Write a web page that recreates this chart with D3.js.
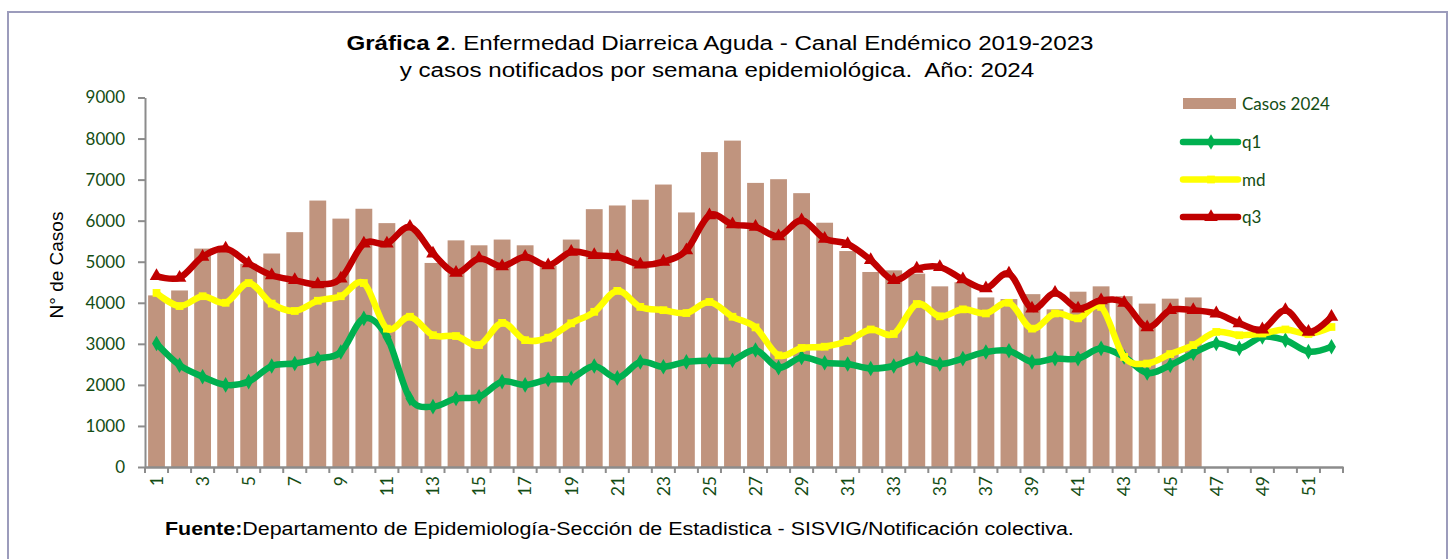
<!DOCTYPE html>
<html>
<head>
<meta charset="utf-8">
<script src="https://cdn.jsdelivr.net/npm/d3@7"></script>
<style>
  body { margin: 0; background: #fff; }
  svg { display: block; }
</style>
</head>
<body>
<div id="chart"></div>
<script>
// Semanas epidemiologicas
const weeks = d3.range(1, 53);
const yTicks = [0, 1000, 2000, 3000, 4000, 5000, 6000, 7000, 8000, 9000];

// Casos 2024 (semanas 1-46)
const casos2024 = [4180, 4300, 5320, 5300, 4950, 5200, 5720, 6490, 6050, 6290,
  5940, 5750, 4970, 5520, 5400, 5540, 5400, 4900, 5540, 6280,
  6370, 6510, 6880, 6200, 7670, 7950, 6920, 7010, 6670, 5950,
  5260, 4750, 4790, 4710, 4400, 4500, 4130, 4090, 4210, 3840,
  4270, 4400, 4160, 3980, 4100, 4130];

// Canal endemico 2019-2023
const q1 = [3010, 2480, 2200, 2000, 2080, 2460, 2520, 2640, 2800, 3620,
  3170, 1670, 1470, 1670, 1710, 2080, 2000, 2130, 2160, 2460,
  2170, 2560, 2440, 2560, 2590, 2600, 2850, 2420, 2670, 2540,
  2510, 2400, 2460, 2640, 2510, 2640, 2800, 2830, 2560, 2640,
  2640, 2890, 2680, 2290, 2480, 2770, 3010, 2890, 3170, 3090,
  2810, 2930];
const md = [4240, 3920, 4160, 4000, 4480, 3980, 3800, 4050, 4160, 4480,
  3370, 3660, 3210, 3190, 2970, 3510, 3090, 3150, 3500, 3780,
  4290, 3900, 3820, 3750, 4020, 3660, 3400, 2720, 2900, 2930,
  3070, 3350, 3240, 3970, 3670, 3840, 3740, 4000, 3370, 3740,
  3620, 3900, 2680, 2520, 2750, 2970, 3290, 3210, 3250, 3350,
  3240, 3410];
const q3 = [4650, 4610, 5120, 5320, 4960, 4670, 4550, 4450, 4590, 5440,
  5440, 5850, 5200, 4730, 5080, 4890, 5120, 4910, 5240, 5160,
  5120, 4930, 5000, 5280, 6130, 5910, 5850, 5620, 6010, 5560,
  5430, 5040, 4550, 4830, 4870, 4570, 4350, 4710, 3860, 4240,
  3860, 4060, 4000, 3400, 3820, 3820, 3740, 3500, 3350, 3820,
  3290, 3660];

const series = [
  { name: "q1", values: q1, color: "#00b050", symbol: d3.symbolDiamond, size: 70 },
  { name: "md", values: md, color: "#ffff00", symbol: d3.symbolSquare, size: 60 },
  { name: "q3", values: q3, color: "#c00000", symbol: d3.symbolTriangle, size: 80 }
];

const W = 1453, H = 559;
const margin = { top: 97.5, right: 110, bottom: 92, left: 145 };
const tickColor = "#144d14";

const svg = d3.select("#chart")
  .append("svg")
  .attr("width", W)
  .attr("height", H);

// marco
svg.append("rect")
  .attr("x", 8).attr("y", 12)
  .attr("width", 1439).attr("height", 600)
  .attr("fill", "#fff")
  .attr("stroke", "#9c9cbc")
  .attr("stroke-width", 2);

// scales
const x = d3.scaleBand()
  .domain(weeks)
  .range([margin.left, 1343]);

const y = d3.scaleLinear()
  .domain([0, 9000])
  .range([467, margin.top]);

const bw = x.bandwidth() * 0.73;

// bars
svg.selectAll(".bar")
  .data(casos2024)
  .enter().append("rect")
  .attr("class", "bar")
  .attr("x", (d, i) => x(weeks[i]) + (x.bandwidth() - bw) / 2)
  .attr("y", d => y(d))
  .attr("width", bw)
  .attr("height", d => y(0) - y(d))
  .style("fill", "#c0947e");

// lines
const line = d3.line()
  .x((d, i) => x(weeks[i]) + x.bandwidth() / 2)
  .y(d => y(d))
  .curve(d3.curveCardinal.tension(0));

series.forEach(function(s) {
  svg.append("path")
    .datum(s.values)
    .attr("fill", "none")
    .attr("stroke", s.color)
    .attr("stroke-width", 6.5)
    .attr("stroke-linejoin", "round")
    .attr("stroke-linecap", "round")
    .attr("d", line);

  svg.selectAll(".mk-" + s.name)
    .data(s.values)
    .enter().append("path")
    .attr("class", "mk-" + s.name)
    .attr("transform", (d, i) => `translate(${x(weeks[i]) + x.bandwidth() / 2},${y(d)})`)
    .attr("d", d3.symbol().type(s.symbol).size(s.size))
    .attr("fill", s.color);
});

// y axis
const yAxis = svg.append("g")
  .attr("transform", `translate(${margin.left},0)`)
  .call(d3.axisLeft(y).tickValues(yTicks).tickFormat(d3.format("d"))
    .tickSize(7).tickPadding(13).tickSizeOuter(0));
yAxis.select(".domain").attr("stroke", "#8c8c8c").attr("stroke-width", 2);
yAxis.selectAll(".tick line").attr("stroke", "#8c8c8c").attr("stroke-width", 2);
yAxis.selectAll("text")
  .attr("fill", tickColor)
  .style("font-family", "Lato, sans-serif")
  .style("font-size", "17px");

// x axis
const xAxis = svg.append("g")
  .attr("transform", `translate(0,${y(0)})`)
  .call(d3.axisBottom(x).tickValues(weeks.filter(w => w % 2 === 1)).tickSize(0).tickPadding(0));
xAxis.select(".domain").attr("stroke", "#8c8c8c").attr("stroke-width", 2.5);
xAxis.selectAll("text")
  .attr("y", 0)
  .attr("x", -9)
  .attr("dy", "0.36em")
  .attr("transform", "rotate(-90)")
  .attr("text-anchor", "end")
  .attr("fill", tickColor)
  .style("font-family", "Lato, sans-serif")
  .style("font-size", "17.5px");

// marcas entre categorias
xAxis.selectAll(".sep")
  .data(weeks.map(w => x(w)).concat([x.range()[1]]))
  .enter().append("line")
  .attr("class", "sep")
  .attr("x1", d => d).attr("x2", d => d)
  .attr("y1", 0).attr("y2", 6)
  .attr("stroke", "#8c8c8c")
  .attr("stroke-width", 2);

// y axis title
svg.append("text")
  .attr("transform", `translate(63,265) rotate(-90)`)
  .attr("text-anchor", "middle")
  .style("font-family", "Liberation Sans, Arial, sans-serif")
  .style("font-size", "19px")
  .text("N° de Casos");

// title
const title = svg.append("text")
  .attr("transform", "translate(720,50) scale(1.15,1)")
  .attr("text-anchor", "middle")
  .style("font-family", "Liberation Sans, Arial, sans-serif")
  .style("font-size", "21px");
title.append("tspan").style("font-weight", "bold").text("Gráfica 2");
title.append("tspan").text(". Enfermedad Diarreica Aguda - Canal Endémico 2019-2023");

svg.append("text")
  .attr("transform", "translate(717,77) scale(1.15,1)")
  .attr("text-anchor", "middle")
  .style("font-family", "Liberation Sans, Arial, sans-serif")
  .style("font-size", "21px")
  .style("white-space", "pre")
  .text("y casos notificados por semana epidemiológica.  Año: 2024");

// footer
const foot = svg.append("text")
  .attr("transform", "translate(165,535) scale(1.19,1)")
  .style("font-family", "Liberation Sans, Arial, sans-serif")
  .style("font-size", "18px");
foot.append("tspan").style("font-weight", "bold").text("Fuente:");
foot.append("tspan").text("Departamento de Epidemiología-Sección de Estadistica - SISVIG/Notificación colectiva.");

// legend
const legend = svg.append("g").attr("transform", "translate(1183,0)");
legend.append("rect")
  .attr("x", 0).attr("y", 98)
  .attr("width", 53).attr("height", 11)
  .style("fill", "#c0947e");
legend.append("text")
  .attr("x", 59).attr("y", 110)
  .attr("fill", tickColor)
  .style("font-family", "Lato, sans-serif")
  .style("font-size", "17px")
  .text("Casos 2024");

series.forEach(function(s, i) {
  const ly = 142 + i * 37.5;
  legend.append("line")
    .attr("x1", 0).attr("x2", 55)
    .attr("y1", ly).attr("y2", ly)
    .attr("stroke", s.color)
    .attr("stroke-width", 6.5)
    .attr("stroke-linecap", "round");
  legend.append("path")
    .attr("transform", `translate(28,${ly})`)
    .attr("d", d3.symbol().type(s.symbol).size(s.size))
    .attr("fill", s.color);
  legend.append("text")
    .attr("x", 59).attr("y", ly + 6)
    .attr("fill", tickColor)
    .style("font-family", "Lato, sans-serif")
    .style("font-size", "17px")
    .text(s.name);
});
</script>
</body>
</html>
